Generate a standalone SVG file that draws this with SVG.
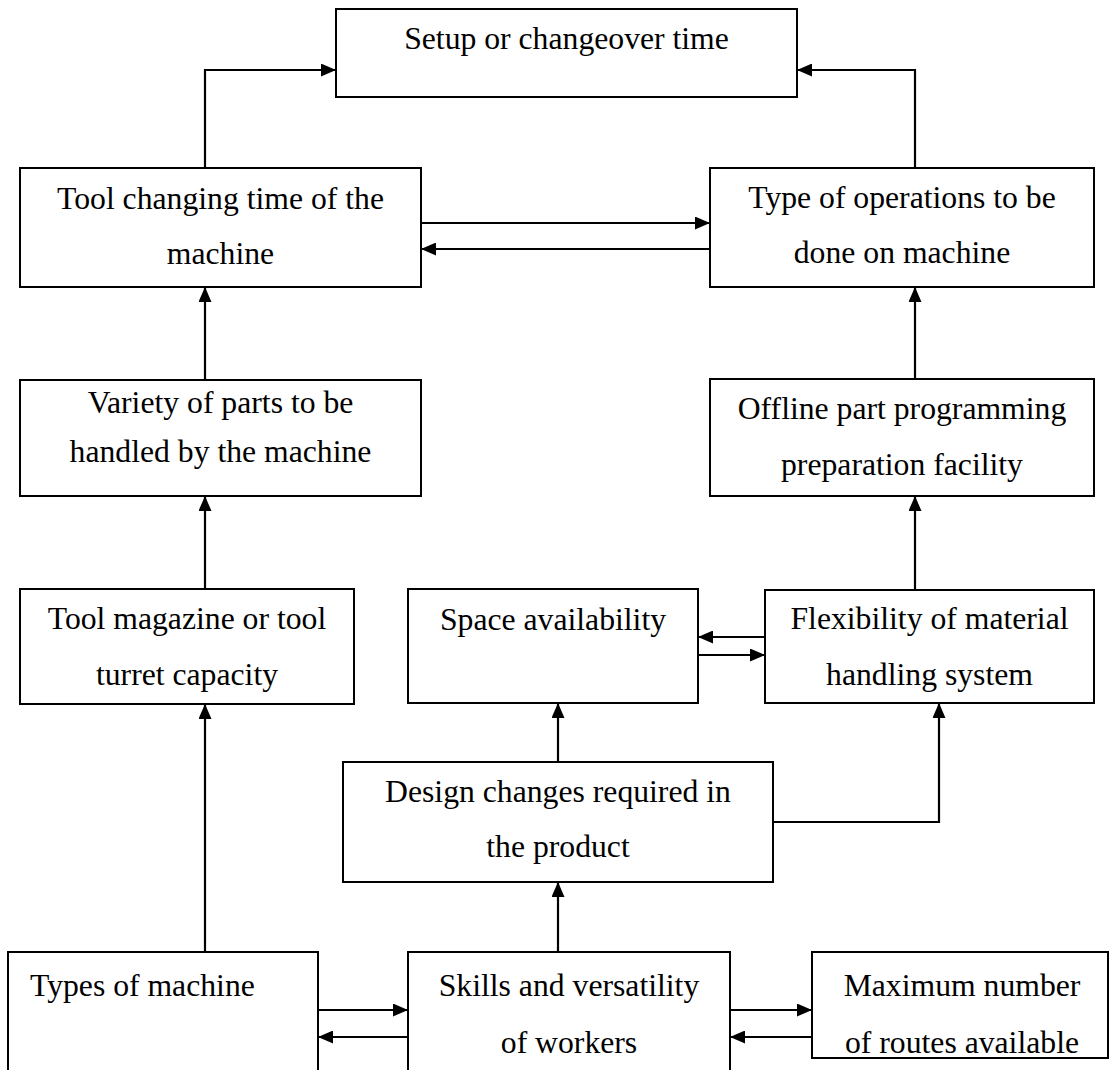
<svg xmlns="http://www.w3.org/2000/svg" width="1110" height="1070" viewBox="0 0 1110 1070">
  <style>
    .box { fill: #ffffff; stroke: #000000; stroke-width: 2; }
    .lbl { font-family: "Liberation Serif", "Times New Roman", serif; font-size: 31.7px; fill: #000000; text-anchor: middle; }
    .lft { text-anchor: start; }
    .wire { fill: none; stroke: #000000; stroke-width: 2.2; marker-end: url(#head); }
  </style>
  <defs>
    <marker id="head" viewBox="0 0 15 13" refX="15" refY="6.5" markerWidth="15" markerHeight="13" markerUnits="userSpaceOnUse" orient="auto">
      <path d="M0,0 L15,6.5 L0,13 Z" fill="#000000"/>
    </marker>
  </defs>
  <rect width="1110" height="1070" fill="#ffffff"/>

  <!-- connectors -->
  <g id="connectors">
    <path class="wire" d="M205,168 V70 H336"/>
    <path class="wire" d="M915,168 V70 H797"/>
    <path class="wire" d="M421,223 H710"/>
    <path class="wire" d="M710,249 H421"/>
    <path class="wire" d="M205,380 V287"/>
    <path class="wire" d="M915,379 V287"/>
    <path class="wire" d="M205,589 V496"/>
    <path class="wire" d="M915,590 V496"/>
    <path class="wire" d="M765,637 H698"/>
    <path class="wire" d="M698,655 H765"/>
    <path class="wire" d="M558,762 V703"/>
    <path class="wire" d="M773,822 H939 V703"/>
    <path class="wire" d="M205,952 V704"/>
    <path class="wire" d="M558,952 V882"/>
    <path class="wire" d="M318,1010 H408"/>
    <path class="wire" d="M408,1037 H318"/>
    <path class="wire" d="M730,1010 H812"/>
    <path class="wire" d="M812,1037 H730"/>
  </g>

  <!-- nodes -->
  <g id="setup-time">
    <rect class="box" x="336" y="9" width="461" height="88"/>
    <text class="lbl" x="566.5" y="49">Setup or changeover time</text>
  </g>
  <g id="tool-changing">
    <rect class="box" x="20" y="168" width="401" height="119"/>
    <text class="lbl" x="220.5" y="209">Tool changing time of the</text>
    <text class="lbl" x="220.5" y="264">machine</text>
  </g>
  <g id="operations">
    <rect class="box" x="710" y="168" width="384" height="119"/>
    <text class="lbl" x="902" y="208">Type of operations to be</text>
    <text class="lbl" x="902" y="263">done on machine</text>
  </g>
  <g id="part-variety">
    <rect class="box" x="20" y="380" width="401" height="116"/>
    <text class="lbl" x="220.5" y="413">Variety of parts to be</text>
    <text class="lbl" x="220.5" y="462">handled by the machine</text>
  </g>
  <g id="offline-programming">
    <rect class="box" x="710" y="379" width="384" height="117"/>
    <text class="lbl" x="902" y="419">Offline part programming</text>
    <text class="lbl" x="902" y="475">preparation facility</text>
  </g>
  <g id="tool-magazine">
    <rect class="box" x="20" y="589" width="334" height="115"/>
    <text class="lbl" x="187" y="629">Tool magazine or tool</text>
    <text class="lbl" x="187" y="685">turret capacity</text>
  </g>
  <g id="space">
    <rect class="box" x="408" y="589" width="290" height="114"/>
    <text class="lbl" x="553" y="630">Space availability</text>
  </g>
  <g id="material-handling">
    <rect class="box" x="765" y="590" width="329" height="113"/>
    <text class="lbl" x="929.5" y="629">Flexibility of material</text>
    <text class="lbl" x="929.5" y="685">handling system</text>
  </g>
  <g id="design-changes">
    <rect class="box" x="343" y="762" width="430" height="120"/>
    <text class="lbl" x="558" y="802">Design changes required in</text>
    <text class="lbl" x="558" y="857">the product</text>
  </g>
  <g id="machine-types">
    <rect class="box" x="8" y="952" width="310" height="130"/>
    <text class="lbl lft" x="30" y="996">Types of machine</text>
  </g>
  <g id="worker-skills">
    <rect class="box" x="408" y="952" width="322" height="130"/>
    <text class="lbl" x="569" y="996">Skills and versatility</text>
    <text class="lbl" x="569" y="1053">of workers</text>
  </g>
  <g id="routes">
    <rect class="box" x="812" y="952" width="296" height="106"/>
    <text class="lbl" x="962" y="996">Maximum number</text>
    <text class="lbl" x="962" y="1053">of routes available</text>
  </g>
</svg>
